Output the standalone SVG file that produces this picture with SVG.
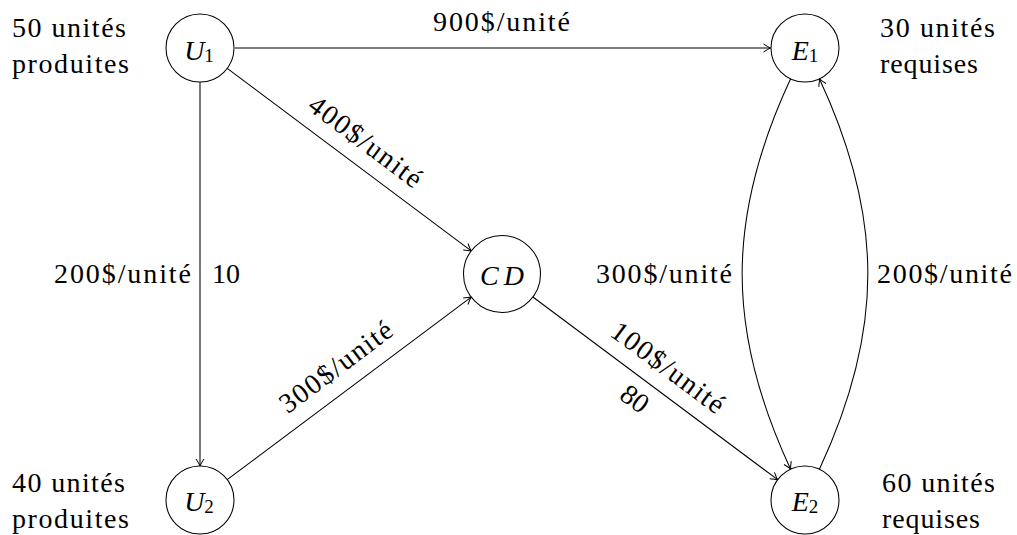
<svg xmlns="http://www.w3.org/2000/svg" width="1017" height="535" viewBox="0 0 1017 535">
<style>
.node circle{fill:#fff;stroke:#000;stroke-width:1.05}
.edge{fill:none;stroke:#000;stroke-width:1.05;marker-end:url(#arr)}
</style>
<defs>
<marker id="arr" markerUnits="userSpaceOnUse" viewBox="0 0 12 10" markerWidth="12" markerHeight="10" refX="10" refY="5" orient="auto">
<path d="M3,1 Q7.5,4 10,5 Q7.5,6 3,9" fill="none" stroke="#000" stroke-width="1"/>
</marker>
</defs>
<rect width="1017" height="535" fill="#fff"/>
<g id="connectors">
<line class="edge" x1="235" y1="48" x2="770.5" y2="48"/>
<line class="edge" x1="200" y1="82" x2="200" y2="466"/>
<line class="edge" x1="227.2" y1="68.4" x2="471.2" y2="250.9"/>
<line class="edge" x1="227.2" y1="479.6" x2="471.2" y2="297.1"/>
<line class="edge" x1="532.9" y1="297" x2="777.7" y2="479.7"/>
<path class="edge" d="M790.6,78.8 C726,217.3 726,330.7 790.6,469.2"/>
<path class="edge" d="M819.4,469.2 C884,330.7 884,217.3 819.4,78.8"/>
</g>
<g id="edge-labels">
<text font-family="Liberation Serif" font-size="28" x="433" y="31" textLength="137" lengthAdjust="spacing">900$/unité</text>
<text font-family="Liberation Serif" font-size="28" x="54" y="283" textLength="137" lengthAdjust="spacing">200$/unité</text>
<text font-family="Liberation Serif" font-size="28" x="212" y="283">10</text>
<text font-family="Liberation Serif" font-size="28" x="596" y="283" textLength="136" lengthAdjust="spacing">300$/unité</text>
<text font-family="Liberation Serif" font-size="28" x="877" y="283" textLength="135" lengthAdjust="spacing">200$/unité</text>
<text font-family="Liberation Serif" font-size="28" transform="translate(351,161) rotate(36.8)" x="0" y="-15" text-anchor="middle" textLength="134" lengthAdjust="spacing">400$/unité</text>
<text font-family="Liberation Serif" font-size="28" transform="translate(351,387) rotate(-36.8)" x="0" y="-16" text-anchor="middle" textLength="134" lengthAdjust="spacing">300$/unité</text>
<text font-family="Liberation Serif" font-size="28" transform="translate(653.5,387) rotate(36.7)" x="0" y="-15" text-anchor="middle" textLength="134" lengthAdjust="spacing">100$/unité</text>
<text font-family="Liberation Serif" font-size="28" transform="translate(653.5,387) rotate(36.7)" x="-8" y="30" text-anchor="middle">80</text>
</g>
<g id="U1" class="node">
<circle cx="200" cy="48" r="34"/>
<text font-family="Liberation Serif" font-size="28" x="199" y="60" text-anchor="middle"><tspan font-style="italic">U</tspan><tspan font-size="19" dy="2">1</tspan></text>
<text font-family="Liberation Serif" font-size="28" x="12" y="37" textLength="114" lengthAdjust="spacing">50 unités</text>
<text font-family="Liberation Serif" font-size="28" x="12" y="72.5" textLength="117" lengthAdjust="spacing">produites</text>
</g>
<g id="U2" class="node">
<circle cx="200" cy="500" r="34"/>
<text font-family="Liberation Serif" font-size="28" x="199" y="511" text-anchor="middle"><tspan font-style="italic">U</tspan><tspan font-size="19" dy="2">2</tspan></text>
<text font-family="Liberation Serif" font-size="28" x="12" y="492" textLength="113" lengthAdjust="spacing">40 unités</text>
<text font-family="Liberation Serif" font-size="28" x="12" y="527.5" textLength="117" lengthAdjust="spacing">produites</text>
</g>
<g id="CD" class="node">
<circle cx="502" cy="274" r="38.5"/>
<text font-family="Liberation Serif" font-size="28" font-style="italic" x="502" y="285" text-anchor="middle" textLength="44" lengthAdjust="spacing">CD</text>
</g>
<g id="E1" class="node">
<circle cx="805" cy="48" r="34"/>
<text font-family="Liberation Serif" font-size="28" x="805" y="60" text-anchor="middle"><tspan font-style="italic">E</tspan><tspan font-size="19" dy="2">1</tspan></text>
<text font-family="Liberation Serif" font-size="28" x="880" y="37" textLength="115" lengthAdjust="spacing">30 unités</text>
<text font-family="Liberation Serif" font-size="28" x="880" y="72.5" textLength="98" lengthAdjust="spacing">requises</text>
</g>
<g id="E2" class="node">
<circle cx="805" cy="500" r="34"/>
<text font-family="Liberation Serif" font-size="28" x="805" y="511" text-anchor="middle"><tspan font-style="italic">E</tspan><tspan font-size="19" dy="2">2</tspan></text>
<text font-family="Liberation Serif" font-size="28" x="882" y="492" textLength="113" lengthAdjust="spacing">60 unités</text>
<text font-family="Liberation Serif" font-size="28" x="882" y="527.5" textLength="98" lengthAdjust="spacing">requises</text>
</g>
</svg>
